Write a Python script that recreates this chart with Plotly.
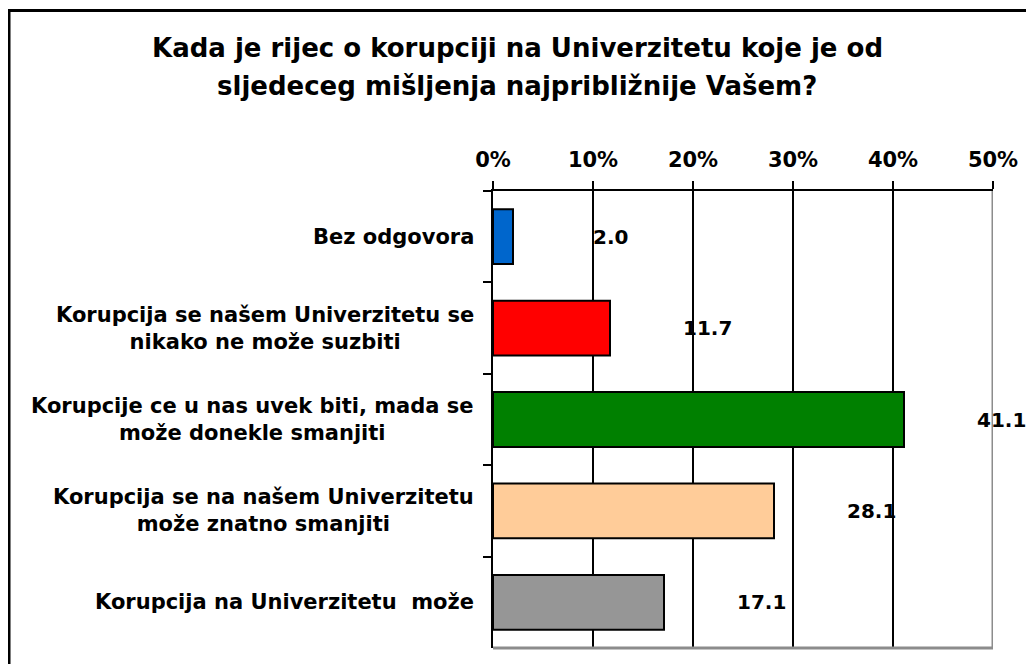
import plotly.graph_objects as go

categories = [
    "Bez odgovora",
    "Korupcija se našem Univerzitetu se<br>nikako ne može suzbiti",
    "Korupcije ce u nas uvek biti, mada se<br>može donekle smanjiti",
    "Korupcija se na našem Univerzitetu<br>može znatno smanjiti",
    "Korupcija na Univerzitetu  može",
]
values = [2.0, 11.7, 41.1, 28.1, 17.1]
bar_colors = ["#0066CC", "#FF0000", "#008000", "#FFCC99", "#969696"]
tick_vals = [0, 10, 20, 30, 40, 50]
tick_text = ["0%", "10%", "20%", "30%", "40%", "50%"]
title_lines = [
    "Kada je rijec o korupciji na Univerzitetu koje je od",
    "sljedeceg mišljenja najpribližnije Vašem?",
]

FONT = "DejaVu Sans"
OFF = 8  # page body margin
W, H = 1034 - OFF, 664 - OFF
ML, MT = 493 - OFF, 191 - OFF
MR, MB = W - (993 - OFF), H - (648 - OFF)
PW, PH = W - ML - MR, H - MT - MB


def px_x(x):
    return (x - OFF - ML) / PW


def px_y(y):
    return (H - MB - (y - OFF)) / PH


fig = go.Figure()
fig.add_trace(go.Bar(
    x=values, y=categories, orientation="h",
    marker=dict(color=bar_colors, line=dict(color="black", width=2)),
    hoverinfo="skip",
))

annotations = []
for cat, v in zip(categories, values):
    annotations.append(dict(
        x=v, y=cat, xref="x", yref="y", text=f"{v:.1f}", showarrow=False,
        xanchor="center", yanchor="middle", xshift=97,
        font=dict(family=FONT, size=20, color="black", weight="bold"),
    ))
    annotations.append(dict(
        x=0, y=cat, xref="paper", yref="y", text=cat, showarrow=False,
        xanchor="right", yanchor="middle", xshift=-17, align="center",
        font=dict(family=FONT, size=21, color="black", weight="bold"),
    ))

for line, ypix in zip(title_lines, [47.5, 86.5]):
    annotations.append(dict(
        x=px_x(517), y=px_y(ypix), xref="paper", yref="paper", text=line,
        showarrow=False, xanchor="center", yanchor="middle",
        font=dict(family=FONT, size=26, color="black", weight="bold"),
    ))

shapes = [
    # outer chart border
    dict(type="rect", xref="paper", yref="paper",
         x0=px_x(9), x1=px_x(1060), y0=px_y(690), y1=px_y(10.5),
         line=dict(color="black", width=3), fillcolor="rgba(0,0,0,0)", layer="above"),
    # right plot edge (gray)
    dict(type="line", xref="x", yref="paper", x0=50, x1=50, y0=0, y1=1,
         line=dict(color="#8C8C8C", width=3), layer="above"),
    # bottom plot edge (gray)
    dict(type="line", xref="paper", yref="paper", x0=0, x1=1, y0=0, y1=0,
         line=dict(color="#8C8C8C", width=3), layer="above"),
]

fig.update_layout(
    width=W, height=H,
    margin=dict(l=ML, r=MR, t=MT, b=MB),
    paper_bgcolor="white", plot_bgcolor="white",
    showlegend=False, bargap=0.4,
    annotations=annotations, shapes=shapes,
    xaxis=dict(
        side="top", range=[0, 50], tickvals=tick_vals, ticktext=tick_text,
        ticks="outside", ticklen=8, tickwidth=2, tickcolor="black",
        showline=True, linecolor="black", linewidth=2,
        showgrid=True, gridcolor="black", gridwidth=2, zeroline=False,
        ticklabelstandoff=6,
        tickfont=dict(family=FONT, size=21, color="black", weight="bold"),
    ),
    yaxis=dict(
        type="category", autorange="reversed", showticklabels=False,
        tickson="boundaries", ticks="outside", ticklen=8, tickwidth=2,
        tickcolor="black", showline=True, linecolor="black", linewidth=2,
        showgrid=False, zeroline=False,
    ),
)

fig.write_html("out.html")
